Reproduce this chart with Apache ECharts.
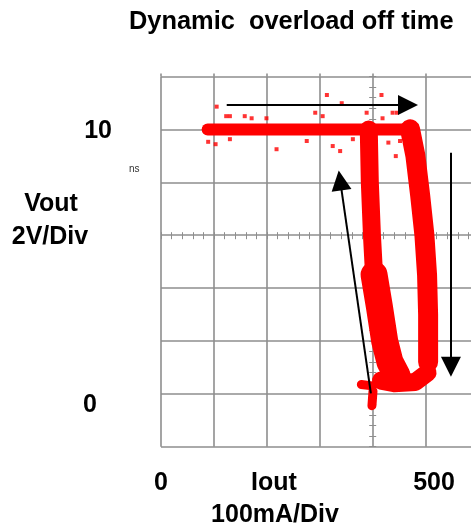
<!DOCTYPE html>
<html>
<head>
<meta charset="utf-8">
<script src="https://cdn.jsdelivr.net/npm/echarts@6/dist/echarts.min.js"></script>
<style>
  html, body { margin: 0; padding: 0; background: #fff; }
  #chart { width: 471px; height: 527px; }
</style>
</head>
<body>
<div id="chart"></div>
<script>
// tick labels
const xLabels = [0, 500]
const yLabels = [0, 10]

// trace (Iout mA, Vout V), drawn as thick persistence bands
const topBand = [[88, 10], [472, 10]]
const rightLeg = [[470, 10], [480, 9], [489, 7.5], [497, 6], [502, 4.5], [504, 3], [504, 1.2]]
const bottomBand = [[503, 0.8], [480, 0.45], [440, 0.4], [415, 0.5]]
const leftLegUpper = [[392, 10], [394, 8], [398, 6], [402, 4.5]]
const leftLegLower = [[402, 4.5], [412, 3.3], [422, 2], [432, 1.2], [445, 0.7]]
const blob = [[378, 0.35], [398, 0.3]]
const tail = [[400, 0.1], [398, -0.45]]

// stray dots around the top band
const strayDots = [
  [105, 10.86], [123, 10.5], [130, 10.5], [158, 10.5], [171, 10.42], [199, 10.42],
  [89, 9.53], [103, 9.44], [130, 9.63], [218, 9.25], [275, 9.56], [291, 10.63],
  [305, 10.5], [313, 11.3], [341, 10.99], [324, 9.37], [338, 9.18], [362, 9.63],
  [388, 10.63], [416, 11.3], [418, 10.42], [437, 10.63], [445, 10.63], [429, 9.5],
  [443, 8.99], [451, 9.56]
]

// direction arrows
const arrowTop = [[124, 10.92], [466, 10.92]]
const arrowRight = [[547, 9.12], [547, 1.02]]
const arrowLeft = [[396, 0.02], [338, 8.07]]

const font = 'Liberation Sans'
const red = '#ff0000'
const gridColor = '#8e8e8e'

function band (data, width) {
  return {
    type: 'line',
    data: data,
    symbol: 'none',
    silent: true,
    z: 3,
    lineStyle: { color: red, width: width, cap: 'round', join: 'round' }
  }
}

function arrow (coords) {
  return {
    type: 'lines',
    coordinateSystem: 'cartesian2d',
    symbol: ['none', 'triangle'],
    symbolSize: 20,
    z: 5,
    lineStyle: { color: '#000', width: 2, opacity: 1 },
    data: [{ coords: coords }]
  }
}

const chart = echarts.init(document.getElementById('chart'))
chart.setOption({
  animation: false,
  title: {
    text: 'Dynamic  overload off time',
    left: 124,
    top: 4,
    textStyle: { fontFamily: font, fontWeight: 'bold', fontSize: 25.4, color: '#000' }
  },
  // grid runs past the right edge of the window, like the scope screen
  grid: { left: 161, top: 76.5, width: 318, height: 370.2, outerBoundsMode: 'none', containLabel: false },
  xAxis: [
    {
      type: 'value',
      min: 0,
      max: 600,
      interval: 100,
      axisLine: { show: false, onZero: false },
      axisTick: { show: false },
      splitLine: { lineStyle: { color: gridColor, width: 1.6 } },
      axisLabel: {
        customValues: xLabels,
        margin: 24,
        formatter: v => v === 500 ? '{r|' + v + '}' : '{n|' + v + '}',
        rich: {
          n: { fontFamily: font, fontWeight: 'bold', fontSize: 25, color: '#000' },
          r: { fontFamily: font, fontWeight: 'bold', fontSize: 25, color: '#000', padding: [0, 0, 0, 16] }
        }
      }
    },
    {
      // graticule lines poke a little above the top edge
      type: 'value',
      position: 'top',
      min: 0,
      max: 600,
      interval: 100,
      axisLine: { show: false, onZero: false },
      axisTick: { show: true, length: 3, lineStyle: { color: gridColor, width: 1.6 } },
      axisLabel: { show: false },
      splitLine: { show: false }
    },
    {
      // minor ticks on the 6 V centre line
      type: 'value',
      position: 'bottom',
      offset: -214.5,
      min: 0,
      max: 600,
      interval: 20,
      axisLine: { show: false, onZero: false },
      axisTick: { show: true, length: 7, lineStyle: { color: gridColor, width: 1 } },
      axisLabel: { show: false },
      splitLine: { show: false }
    }
  ],
  yAxis: [
    {
      type: 'value',
      min: -2,
      max: 12,
      interval: 2,
      axisLine: { show: false, onZero: false },
      axisTick: { show: false },
      splitLine: { lineStyle: { color: gridColor, width: 1.6 } },
      axisLabel: {
        customValues: yLabels,
        margin: 49,
        formatter: v => v === 0 ? '{z|' + v + '}' : '{n|' + v + '}',
        rich: {
          n: { fontFamily: font, fontWeight: 'bold', fontSize: 25, color: '#000', padding: [4, 0, 0, 0] },
          z: { fontFamily: font, fontWeight: 'bold', fontSize: 25, color: '#000', padding: [22, 15, 0, 0] }
        }
      }
    },
    {
      // minor ticks on the 400 mA centre line
      type: 'value',
      position: 'left',
      offset: -215.2,
      min: -2,
      max: 12,
      interval: 0.4,
      axisLine: { show: false, onZero: false },
      axisTick: { show: true, length: 7, lineStyle: { color: gridColor, width: 1 } },
      axisLabel: { show: false },
      splitLine: { show: false }
    }
  ],
  graphic: [
    { type: 'text', left: 129, top: 164, style: { text: 'ns', fontFamily: font, fontSize: 10, fill: '#333' } },
    { type: 'text', x: 51, y: 204, style: { text: 'Vout', fontFamily: font, fontWeight: 'bold', fontSize: 25, fill: '#000', align: 'center', verticalAlign: 'middle' } },
    { type: 'text', x: 50, y: 237, style: { text: '2V/Div', fontFamily: font, fontWeight: 'bold', fontSize: 25, fill: '#000', align: 'center', verticalAlign: 'middle' } },
    { type: 'text', x: 274, y: 483, style: { text: 'Iout', fontFamily: font, fontWeight: 'bold', fontSize: 25, fill: '#000', align: 'center', verticalAlign: 'middle' } },
    { type: 'text', x: 275, y: 515, style: { text: '100mA/Div', fontFamily: font, fontWeight: 'bold', fontSize: 25, fill: '#000', align: 'center', verticalAlign: 'middle' } }
  ],
  series: [
    band(topBand, 12),
    band(rightLeg, 20),
    band(bottomBand, 18),
    band(leftLegUpper, 18),
    band(leftLegLower, 27),
    band(blob, 9),
    band(tail, 9),
    {
      type: 'scatter',
      data: strayDots,
      symbol: 'rect',
      symbolSize: 4,
      z: 3,
      itemStyle: { color: red }
    },
    arrow(arrowTop),
    arrow(arrowRight),
    arrow(arrowLeft)
  ]
})
window.addEventListener('resize', () => chart.resize())
</script>
</body>
</html>
